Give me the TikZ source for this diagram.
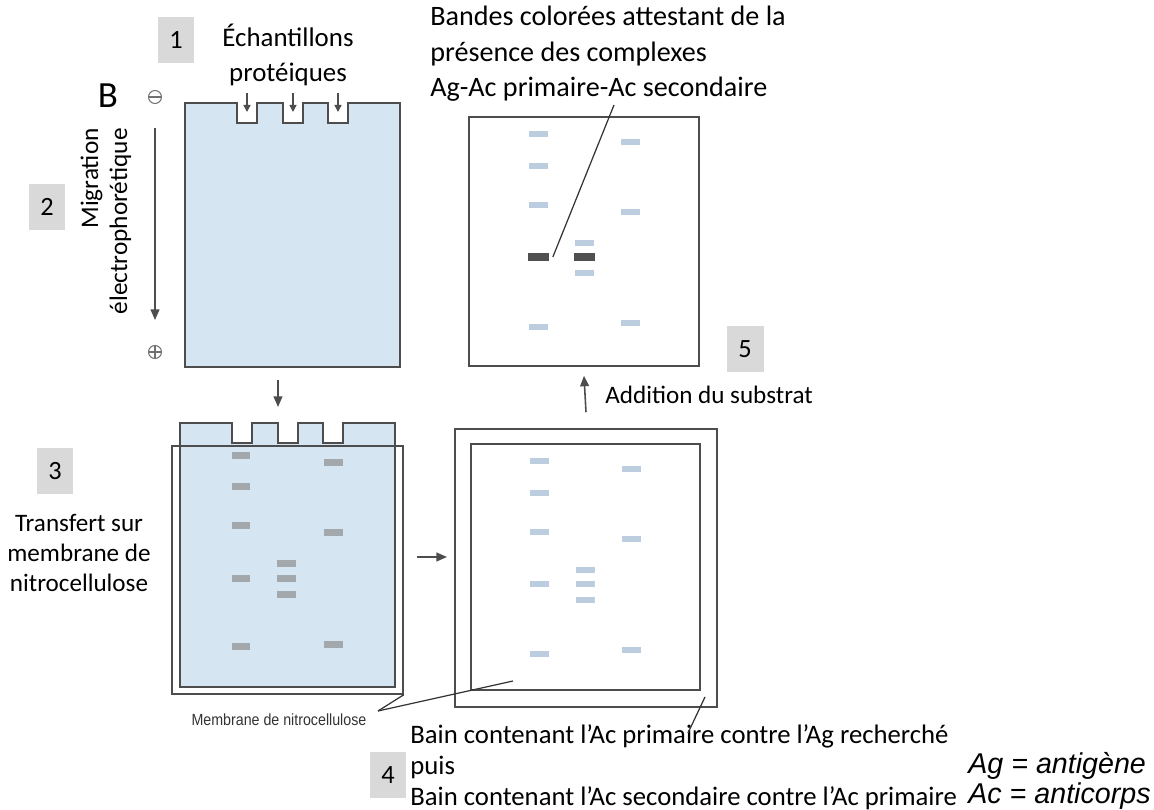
\documentclass[tikz,border=0pt]{standalone}
\usepackage{fontspec}
\setmainfont{Carlito}
\newfontfamily\arialfont{Liberation Sans}
\newfontfamily\arialetroit[FakeStretch=0.88]{Liberation Sans}
\usetikzlibrary{
    positioning,
    arrows.meta
}
\definecolor{BleuGel}{HTML}{D5E5F1}
\definecolor{BandeGel}{HTML}{A3A8AD}
\definecolor{BandeClaire}{HTML}{BCCDE0}
\definecolor{BandeFoncee}{HTML}{505050}
\definecolor{Trait}{HTML}{4D4D4D}
\definecolor{GrisBoite}{HTML}{D9D9D9}

\tikzset{
    contour/.style={draw=Trait, line width=0.9pt},
    fleche/.style={draw=Trait, line width=0.9pt, -{Triangle[length=6pt,width=5pt]}},
    petitefleche/.style={draw=Trait, line width=0.8pt, -{Triangle[length=4pt,width=4pt]}},
    renvoi/.style={draw=black!80, line width=0.7pt},
    numero/.style={fill=GrisBoite, minimum width=0.74cm, minimum height=0.92cm,
        inner sep=0pt, font=\fontsize{15}{18}\selectfont},
    legende/.style={inner sep=0pt, font=\fontsize{15.3}{17.5}\selectfont},
    bande/.style={minimum width=0.38cm, minimum height=0.12cm, inner sep=0pt},
    bandefoncee/.style={bande, fill=BandeFoncee, minimum width=0.42cm, minimum height=0.16cm},
    signe/.style={circle, draw=Trait!80, line width=0.6pt, minimum size=0.26cm, inner sep=0pt}
}

\begin{document}
\begin{tikzpicture}[x=0.02cm, y=-0.02cm]
\useasboundingbox (0,0) rectangle (1154,810);

% gels (avant et apres transfert)
\foreach \dx/\dy in {185/103, 180/423}{
    \draw[contour, fill=BleuGel, shift={(\dx,\dy)}]
        (0,0) -- (52,0) -- (52,20) -- (72,20) -- (72,0) -- (98,0) -- (98,20)
        -- (118,20) -- (118,0) -- (143,0) -- (143,20) -- (163,20) -- (163,0)
        -- (215,0) -- (215,264) -- (0,264) -- cycle;
}
\foreach \x in {247,293,338}
    \draw[petitefleche] (\x,93) -- (\x,112);

% membrane
\node[contour, minimum width=4.62cm, minimum height=4.96cm, inner sep=0pt] (membrane) at (287.5,570) {};
\foreach \x/\y in {241/456, 241/487, 241/526, 241/579, 241/647,
                   286/564, 286/579, 286/595, 333/463, 333/533, 333/645}
    \node[bande, fill=BandeGel, minimum height=0.14cm] at (\x,\y) {};

% bain et membrane revelee
\node[contour, minimum width=5.24cm, minimum height=5.56cm, inner sep=0pt] (bain) at (586,568) {};
\node[contour, minimum width=4.58cm, minimum height=4.92cm, inner sep=0pt] (membraneBain) at (585.5,567) {};
\node[contour, minimum width=4.6cm, minimum height=4.98cm, inner sep=0pt] (resultat) at (584,241.5) {};
\foreach \x/\y in {538/134, 538/166, 538/205, 538/327, 584/243, 584/273,
                   630/142, 630/212, 630/323}{
    \node[bande, fill=BandeClaire] at (\x,\y) {};
    \node[bande, fill=BandeClaire] at (\x+1,\y+327) {};
}
\foreach \x in {538,584}
    \node[bande, fill=BandeClaire] at (\x+1,584) {};
\node[bandefoncee] (fonceeA) at (538,257) {};
\node[bandefoncee] (fonceeB) at (584,257) {};

% fleches entre etapes
\coordinate (gelBas) at (278,380);
\coordinate (membraneHaut) at (278,407);
\draw[fleche] (gelBas) -- (membraneHaut);
\coordinate (transfertA) at (417,557);
\coordinate (transfertB) at (447,557);
\draw[fleche] (transfertA) -- (transfertB);
\draw[fleche] ([yshift=0.32cm]bain.north) -- ([yshift=-0.18cm]resultat.south);

% migration
\node[signe] (moins) at (155,97) {};
\draw[Trait!80, line width=0.6pt] (moins.west) -- (moins.east);
\node[signe] (plus) at (155,352) {};
\draw[Trait!80, line width=0.6pt] (plus.west) -- (plus.east) (plus.north) -- (plus.south);
\coordinate (migHaut) at (155,128);
\coordinate (migBas) at (155,320);
\draw[fleche] (migHaut) -- (migBas);

% numeros
\node[numero] (n1) at (176,40) {1};
\node[numero] (n2) at (47,207) {2};
\node[numero] (n3) at (55,471) {3};
\node[numero] (n4) at (388,775) {4};
\node[numero] (n5) at (745,349) {5};

% textes
\node[inner sep=0pt, font=\fontsize{21}{24}\selectfont] (lettreB) at (108,96) {B};
\node[legende, align=center, font=\fontsize{15.3}{19.8}\selectfont] (echantillons) at (288,55) {Échantillons\\protéiques};
\node[legende, align=right, rotate=90, anchor=east, font=\fontsize{14.4}{16.5}\selectfont] (migration) at (106,128) {Migration\\électrophorétique};
\node[legende, align=center, font=\fontsize{14.3}{17}\selectfont] (transfert) at (79,553) {Transfert sur\\membrane de\\nitrocellulose};
\node[legende, align=left, anchor=west, font=\fontsize{16}{20.2}\selectfont] (bandes) at (430,54) {Bandes colorées attestant de la\\présence des complexes\\Ag-Ac primaire-Ac secondaire};
\node[legende, anchor=west, font=\fontsize{14.3}{17}\selectfont] (substrat) at (605,395) {Addition du substrat};
\node[legende, align=left, anchor=west, font=\fontsize{15.2}{17.5}\selectfont] (etape4) at (410,767) {Bain contenant l’Ac primaire contre l’Ag recherché\\puis\\Bain contenant l’Ac secondaire contre l’Ac primaire};
\node[inner sep=0pt, anchor=east, align=left, font=\arialfont\itshape\fontsize{16.3}{17.5}\selectfont] (abrev) at (1151,781) {Ag = antigène\\Ac = anticorps};
\node[inner sep=0pt, font=\arialetroit\fontsize{9.2}{10}\selectfont, text=black!80] (nomMembrane) at (279,720) {Membrane de nitrocellulose};

% traits de renvoi
\coordinate (renvoiM) at (378,711);
\draw[renvoi] (renvoiM) -- (membrane.south east);
\draw[renvoi] (renvoiM) -- (513,681);
\draw[renvoi] ([xshift=0.08cm]fonceeA.east) -- (614,105);
\coordinate (renvoiBain) at (688,733);
\draw[renvoi] (renvoiBain) -- (705,697);
\end{tikzpicture}
\end{document}
